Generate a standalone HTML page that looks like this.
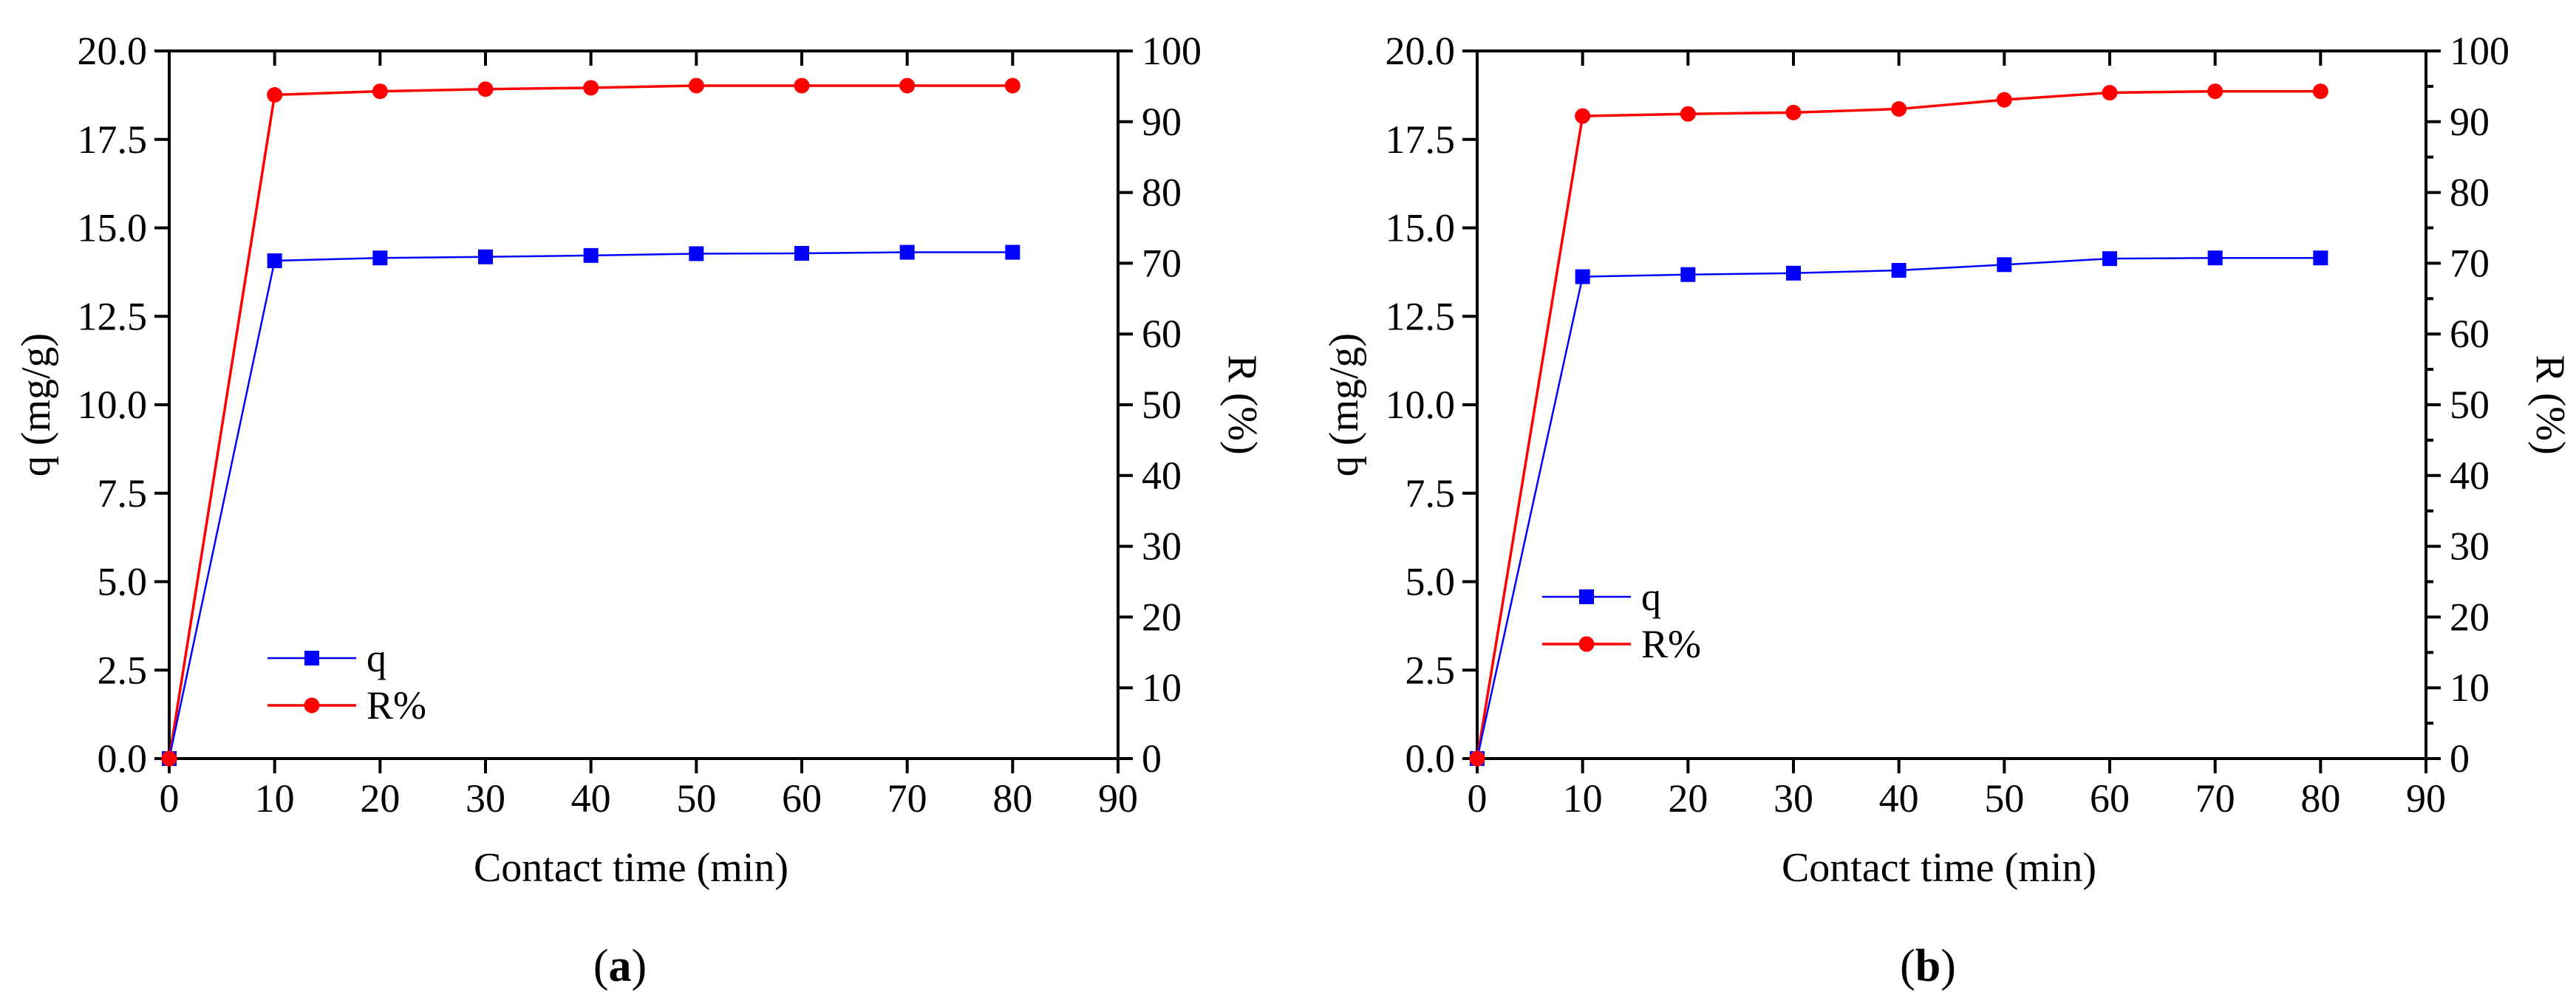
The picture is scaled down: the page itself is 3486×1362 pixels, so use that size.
<!DOCTYPE html>
<html><head><meta charset="utf-8"><style>
html,body{margin:0;padding:0;background:#fff;}
svg{display:block;font-family:"Liberation Serif",serif;}
svg text{font-family:"Liberation Serif",serif;}
</style></head><body>
<svg id="fig" width="3486" height="1362" viewBox="0 0 3486 1362" xmlns="http://www.w3.org/2000/svg" font-family="Liberation Serif, serif"></svg>
<script>
const timeMin = [0,10,20,30,40,50,60,70,80];
const qA = [0,14.07,14.15,14.18,14.22,14.27,14.28,14.31,14.31];
const rA = [0,93.8,94.3,94.6,94.8,95.1,95.1,95.1,95.1];
const qB = [0,13.62,13.68,13.72,13.8,13.96,14.13,14.15,14.15];
const rB = [0,90.8,91.1,91.3,91.8,93.1,94.1,94.3,94.3];
const xTicks = [0,10,20,30,40,50,60,70,80,90];
const qTicks = ["0.0","2.5","5.0","7.5","10.0","12.5","15.0","17.5","20.0"];
const rTicks = [0,10,20,30,40,50,60,70,80,90,100];

const NS="http://www.w3.org/2000/svg";
const svg=document.getElementById('fig');
function mk(tag,attrs,parent){const e=document.createElementNS(NS,tag);for(const k in attrs)e.setAttribute(k,attrs[k]);if(tag==='text')e.setAttribute('font-family','Liberation Serif, serif');(parent||svg).appendChild(e);return e;}

function panel(off, q, r, label, legX, legY, minorR){
  const g=mk('g',{});
  
  
  const L=229+off, R=1513+off, T=69, B=1027;
  const sx=v=>L+(v-0)/(90-0)*(R-L);
  const sq=v=>B-(v/20)*(B-T);
  const sr=v=>B-(v/100)*(B-T);
  const fr=mk('rect',{x:L,y:T,width:R-L,height:B-T,fill:'none',stroke:'#000','stroke-width':4},g);
  
  
  xTicks.forEach(v=>{
    const x=sx(v);
    mk('line',{x1:x,y1:B,x2:x,y2:B+20,stroke:'#000','stroke-width':4},g);
    mk('line',{x1:x,y1:T,x2:x,y2:T+20,stroke:'#000','stroke-width':4},g);
    const t=mk('text',{x:x,y:B+72,'font-size':54,'text-anchor':'middle'},g);
    t.textContent=v;
    
    
  });
  qTicks.forEach(s=>{
    const y=sq(parseFloat(s));
    mk('line',{x1:L-20,y1:y,x2:L,y2:y,stroke:'#000','stroke-width':4},g);
    const t=mk('text',{x:L-30,y:y+18,'font-size':54,'text-anchor':'end'},g);
    t.textContent=s;
    
    
  });
  rTicks.forEach(v=>{
    const y=sr(v);
    mk('line',{x1:R,y1:y,x2:R+20,y2:y,stroke:'#000','stroke-width':4},g);
    if(minorR && v<100){const ym=sr(v+5);mk('line',{x1:R,y1:ym,x2:R+10,y2:ym,stroke:'#000','stroke-width':4},g);}
    const t=mk('text',{x:R+32,y:y+18,'font-size':54,'text-anchor':'start'},g);
    t.textContent=v;
    
    
  });
  const xt=mk('text',{x:(L+R)/2-17,y:1193,'font-size':56,'text-anchor':'middle'},g);
  xt.textContent='Contact time (min)';
  
  
  const yt=mk('text',{x:0,y:0,'font-size':56,'text-anchor':'middle',transform:`translate(${L-162},${(T+B)/2}) rotate(-90)`},g);
  yt.textContent='q (mg/g)';
  
  
  const yr=mk('text',{x:0,y:0,'font-size':56,'text-anchor':'middle',transform:`translate(${R+150},${(T+B)/2}) rotate(90)`},g);
  yr.textContent='R (%)';
  
  
  const cap=mk('text',{x:(L+R)/2-32,y:1328,'font-size':62,'text-anchor':'middle'},g);
  cap.innerHTML='(<tspan font-weight="bold">'+label+'</tspan>)';
  
  
  const rl=mk('polyline',{points:timeMin.map((t,i)=>sx(t)+','+sr(r[i])).join(' '),fill:'none',stroke:'#ff0000','stroke-width':3.5},g);
  
  
  const ql=mk('polyline',{points:timeMin.map((t,i)=>sx(t)+','+sq(q[i])).join(' '),fill:'none',stroke:'#0000ff','stroke-width':2.5},g);
  
  
  timeMin.forEach((t,i)=>{
    const s=mk('rect',{x:sx(t)-10,y:sq(q[i])-10,width:20,height:20,fill:'#0000ff'},g);
    
    
    const c=mk('circle',{cx:sx(t),cy:sr(r[i]),r:10.5,fill:'#ff0000'},g);
    
    
  });
  const lg=mk('g',{},g);
  
  
  const lx=L+legX, y1=legY, y2=legY+64;
  mk('line',{x1:lx,y1:y1,x2:lx+120,y2:y1,stroke:'#0000ff','stroke-width':2.5},lg);
  mk('rect',{x:lx+50,y:y1-10,width:20,height:20,fill:'#0000ff'},lg);
  const lt1=mk('text',{x:lx+134,y:y1+18,'font-size':54},lg);lt1.textContent='q';
  
  
  mk('line',{x1:lx,y1:y2,x2:lx+120,y2:y2,stroke:'#ff0000','stroke-width':3.5},lg);
  mk('circle',{cx:lx+60,cy:y2,r:10.5,fill:'#ff0000'},lg);
  const lt2=mk('text',{x:lx+134,y:y2+18,'font-size':54},lg);lt2.textContent='R%';
  
  
}
panel(0,qA,rA,'a',133,891,false);
panel(1770,qB,rB,'b',88,808,true);
</script>
</body></html>
